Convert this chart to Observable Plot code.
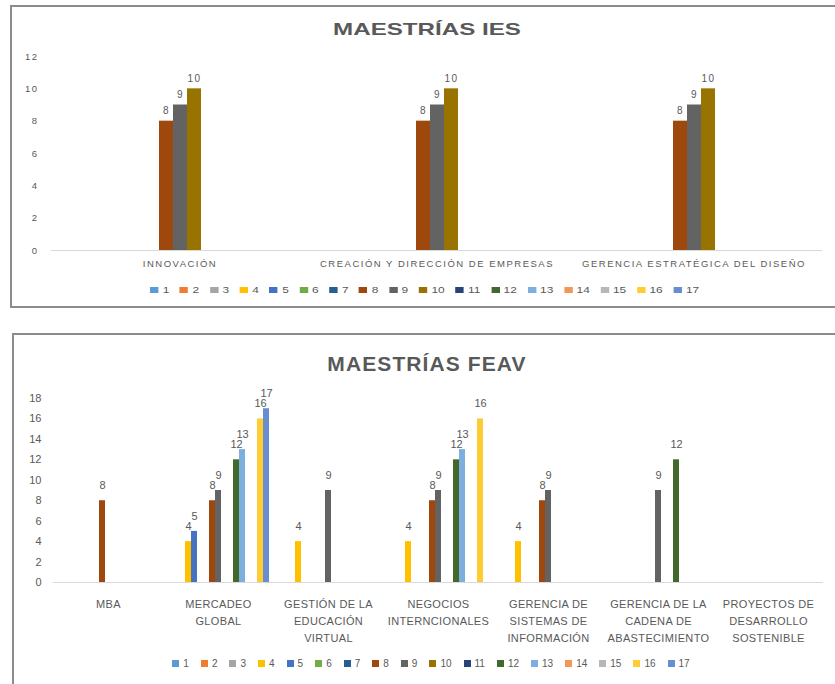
<!DOCTYPE html>
<html>
<head>
<meta charset="utf-8">
<script src="https://cdn.jsdelivr.net/npm/d3@7"></script>
<script src="https://cdn.jsdelivr.net/npm/@observablehq/plot@0.6"></script>
<style>
html, body { margin: 0; padding: 0; background: #fff; overflow: hidden; width: 835px; height: 684px; }
body { position: relative; font-family: "Liberation Sans", Arial, sans-serif; color: #595959; }
.box { position: absolute; box-sizing: border-box; border: 2px solid #8c8c8c; }
#box1 { left: 10px; top: 5px; width: 850px; height: 303px; }
#box2 { left: 12px; top: 333px; width: 850px; height: 400px; }
.title { position: absolute; left: -1px; width: 856px; text-align: center; font-weight: bold; color: #595959; white-space: nowrap; line-height: 1; }
#t1 { top: 21px; font-size: 17px; transform: scaleX(1.42); }
#t2 { top: 353px; font-size: 21px; letter-spacing: 1.1px; }
.chart { position: absolute; left: 0; }
#c1 { top: 40px; }
#c2 { top: 380px; }
#c1 svg text { letter-spacing: 1.5px; }
#c2 svg g[aria-label="fx-axis tick label"] text { letter-spacing: 0.35px; }
.leg { position: absolute; left: 0; width: 856px; display: flex; justify-content: center; }
#l1 { top: 285px; left: 2px; transform: scaleX(1.4); }
#l2 { top: 658px; left: 9px; }
.lg-swatches { font-family: "Liberation Sans", Arial, sans-serif; color: #595959; margin: 0; }
.lg-swatches-wrap { min-height: 0; flex-wrap: nowrap; justify-content: center; }
#l1 .lg-swatches { font-size: 8.5px; }
#l2 .lg-swatches { font-size: 10px; }
#l1 .lg-swatch { margin-right: 7.6px; }
#l2 .lg-swatch { margin-right: 12px; }
#l1 .lg-swatch > svg { margin-right: 3px; }
#l2 .lg-swatch > svg { margin-right: 4px; }
</style>
</head>
<body>
<div class="box" id="box1"></div>
<div class="box" id="box2"></div>
<div class="title" id="t1">MAESTRÍAS IES</div>
<div class="title" id="t2">MAESTRÍAS FEAV</div>
<div class="chart" id="c1"></div>
<div class="chart" id="c2"></div>
<div class="leg" id="l1"></div>
<div class="leg" id="l2"></div>
<script>
// Series (1..17) and Excel default colours
const seriesNames = ["1","2","3","4","5","6","7","8","9","10","11","12","13","14","15","16","17"];
const seriesColors = ["#5B9BD5","#ED7D31","#A5A5A5","#FFC000","#4472C4","#70AD47","#255E91","#9E480E",
  "#636363","#997300","#264478","#43682B","#7CAFDD","#F1975A","#B7B7B7","#FFCD33","#698ED0"];

// Chart 1: MAESTRÍAS IES
const iesCategories = ["INNOVACIÓN", "CREACIÓN Y DIRECCIÓN DE EMPRESAS", "GERENCIA ESTRATÉGICA DEL DISEÑO"];
const iesTicks = [0, 2, 4, 6, 8, 10, 12];
const iesValues = [
  /* 1 */ [null, null, null],
  /* 2 */ [null, null, null],
  /* 3 */ [null, null, null],
  /* 4 */ [null, null, null],
  /* 5 */ [null, null, null],
  /* 6 */ [null, null, null],
  /* 7 */ [null, null, null],
  /* 8 */ [8, 8, 8],
  /* 9 */ [9, 9, 9],
  /* 10 */ [10, 10, 10],
  /* 11 */ [null, null, null],
  /* 12 */ [null, null, null],
  /* 13 */ [null, null, null],
  /* 14 */ [null, null, null],
  /* 15 */ [null, null, null],
  /* 16 */ [null, null, null],
  /* 17 */ [null, null, null]
];

// Chart 2: MAESTRÍAS FEAV
const feavCategories = ["MBA", "MERCADEO\nGLOBAL", "GESTIÓN DE LA\nEDUCACIÓN\nVIRTUAL", "NEGOCIOS\nINTERNCIONALES",
  "GERENCIA DE\nSISTEMAS DE\nINFORMACIÓN", "GERENCIA DE LA\nCADENA DE\nABASTECIMIENTO", "PROYECTOS DE\nDESARROLLO\nSOSTENIBLE"];
const feavTicks = [0, 2, 4, 6, 8, 10, 12, 14, 16, 18];
const feavValues = [
  /* 1 */ [null, null, null, null, null, null, null],
  /* 2 */ [null, null, null, null, null, null, null],
  /* 3 */ [null, null, null, null, null, null, null],
  /* 4 */ [null, 4, 4, 4, 4, null, null],
  /* 5 */ [null, 5, null, null, null, null, null],
  /* 6 */ [null, null, null, null, null, null, null],
  /* 7 */ [null, null, null, null, null, null, null],
  /* 8 */ [8, 8, null, 8, 8, null, null],
  /* 9 */ [null, 9, 9, 9, 9, 9, null],
  /* 10 */ [null, null, null, null, null, null, null],
  /* 11 */ [null, null, null, null, null, null, null],
  /* 12 */ [null, 12, null, 12, null, 12, null],
  /* 13 */ [null, 13, null, 13, null, null, null],
  /* 14 */ [null, null, null, null, null, null, null],
  /* 15 */ [null, null, null, null, null, null, null],
  /* 16 */ [null, 16, null, 16, null, null, null],
  /* 17 */ [null, 17, null, null, null, null, null]
];

function toRows(categories, values) {
  const rows = [];
  values.forEach((arr, i) => arr.forEach((v, j) => {
    if (v != null) rows.push({cat: categories[j], series: seriesNames[i], value: v});
  }));
  return rows;
}

function makeChart(o) {
  const rows = toRows(o.categories, o.values);
  return Plot.plot({
    width: 835,
    height: o.height,
    marginLeft: o.marginLeft,
    marginRight: 12,
    marginTop: o.marginTop,
    marginBottom: o.marginBottom,
    style: {fontFamily: '"Liberation Sans", Arial, sans-serif', fontSize: o.fontSize + "px", color: "#595959", background: "transparent"},
    fx: {domain: o.categories, padding: 0, label: null},
    x: {domain: seriesNames, paddingInner: 0, paddingOuter: 0.5, axis: null},
    y: {domain: [0, o.ticks[o.ticks.length - 1]], label: null},
    color: {domain: seriesNames, range: seriesColors},
    marks: [
      Plot.axisY({ticks: o.ticks, tickSize: 0, tickPadding: o.yPad, label: null, fill: "#595959"}),
      Plot.axisFx({anchor: "bottom", tickSize: 0, tickPadding: o.fxPad, label: null, lineHeight: o.lineHeight, fill: "#595959"}),
      Plot.ruleY(o.categories, {fx: (d) => d, y: () => 0, stroke: "#d9d9d9", strokeWidth: 1}),
      Plot.barY(rows, {fx: "cat", x: "series", y: "value", fill: "series"}),
      Plot.text(rows, {fx: "cat", x: "series", y: "value", text: "value", dy: o.labelDy, fill: "#595959", fontSize: o.labelSize})
    ]
  });
}

document.getElementById("c1").append(makeChart({
  categories: iesCategories, values: iesValues, ticks: iesTicks,
  height: 240, marginLeft: 50, marginTop: 16, marginBottom: 30,
  fontSize: 9.5, yPad: 13, fxPad: 10, lineHeight: 1, labelDy: -10, labelSize: 10
}));
document.getElementById("c2").append(makeChart({
  categories: feavCategories, values: feavValues, ticks: feavTicks,
  height: 276, marginLeft: 52, marginTop: 18, marginBottom: 74,
  fontSize: 11, yPad: 12, fxPad: 13, lineHeight: 1.55, labelDy: -15, labelSize: 11
}));

document.getElementById("l1").append(Plot.legend({
  color: {domain: seriesNames, range: seriesColors}, legend: "swatches", swatchSize: 6, className: "lg"
}));
document.getElementById("l2").append(Plot.legend({
  color: {domain: seriesNames, range: seriesColors}, legend: "swatches", swatchSize: 7, className: "lg"
}));
</script>
</body>
</html>
